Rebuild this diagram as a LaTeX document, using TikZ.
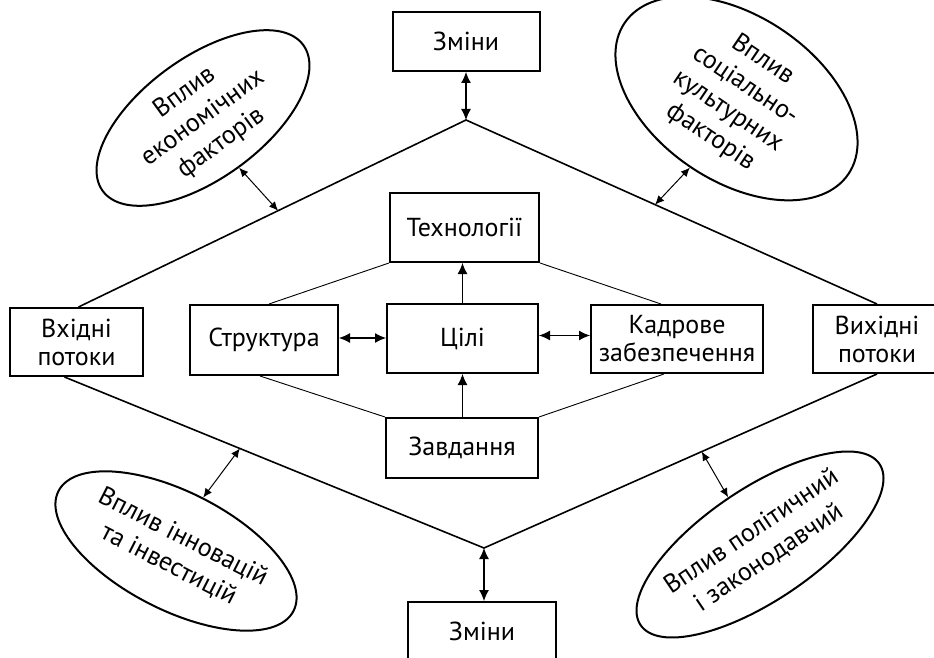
\documentclass[tikz,border=0pt]{standalone}
\usepackage{fontspec}
\setmainfont{PT Sans}
\usetikzlibrary{shapes.geometric,arrows.meta,calc}
\begin{document}
\begin{tikzpicture}[x=1pt,y=-1pt,
  box/.style={draw,line width=2pt,font=\fontsize{26}{28}\selectfont,align=center,inner sep=0pt},
  ell/.style={draw,ellipse,line width=2pt,font=\fontsize{26}{31}\selectfont,align=center,inner sep=0pt},
  dia/.style={line width=1.6pt},
  thinline/.style={line width=0.9pt},
  arr/.style={line width=1.1pt,-{Latex[length=11pt,width=10pt]}},
  darr/.style={line width=1.1pt,{Latex[length=11pt,width=10pt]}-{Latex[length=11pt,width=10pt]}},
  earr/.style={line width=1pt,{Latex[length=9pt,width=8pt]}-{Latex[length=9pt,width=8pt]}},
]
\useasboundingbox (0,0) rectangle (934,658);
\clip (0,0) rectangle (934,658);

% boxes
\node[box,minimum width=147pt,minimum height=59pt] (zt) at (466,41.5) {Зміни};
\node[box,minimum width=149pt,minimum height=69pt] (tech) at (464.5,227.5) {Технології};
\node[box,minimum width=148pt,minimum height=70pt] (str) at (264,340) {Структура};
\node[box,minimum width=151pt,minimum height=69pt] (cil) at (462.5,338.5) {Цілі};
\node[box,minimum width=172pt,minimum height=68pt] (kad) at (677,339) {Кадрове\\забезпечення};
\node[box,minimum width=152pt,minimum height=60pt] (zav) at (462,448) {Завдання};
\node[box,minimum width=133pt,minimum height=68pt] (vin) at (76.5,342) {Вхідні\\потоки};
\node[box,minimum width=128pt,minimum height=68pt] (vyh) at (877,339) {Вихідні\\потоки};
\node[box,minimum width=148pt,minimum height=64pt] (zb) at (482,634) {\raisebox{6pt}{Зміни}};

% ellipses
\node[ell,minimum width=248pt,minimum height=114pt,rotate=36] (econ) at (203,118) {Вплив\\економічних\\факторів};
\node[ell,minimum width=270pt,minimum height=122pt,rotate=-34] (soc) at (736.5,98.5) {Вплив\\соціально-\\культурних\\факторів};
\node[ell,minimum width=246pt,minimum height=118pt,rotate=-27] (inn) at (176,551) {Вплив інновацій\\та інвестицій};
\node[ell,minimum width=250pt,minimum height=112pt,rotate=34] (pol) at (760,544.5) {Вплив політичний\\і законодавчий};

% diamond
\coordinate (tv) at (466,120);
\coordinate (bv) at (484,548);
\coordinate (inN) at ([xshift=2pt]vin.north);
\coordinate (inS) at ([xshift=-12pt]vin.south);
\draw[dia] (inN) -- (tv) -- (vyh.north);
\draw[dia] (inS) -- (bv) -- (vyh.south);

\draw[darr] (zt.south) -- (tv);
\draw[darr] (bv) -- (bv |- zb.north);

% inner structure
\draw[thinline] (tech.south west) -- ([xshift=5pt]str.north);
\draw[thinline] (tech.south east) -- ([xshift=-16pt]kad.north);
\draw[thinline] ([xshift=-4pt]str.south) -- (zav.north west);
\draw[thinline] ([xshift=-13pt]kad.south) -- (zav.north east);

\draw[arr] (cil.north) -- (cil.north |- tech.south);
\draw[arr] (zav.north -| cil.north) -- (cil.south);
\draw[darr] ([yshift=2pt]str.east) -- ([yshift=2pt]str.east -| cil.west);
\draw[darr] ([yshift=3pt]cil.east) -- ([yshift=3pt]cil.east -| kad.west);

% influence arrows
\coordinate (p1) at ($(tv)!0.485!(inN)$);
\coordinate (p2) at ($(tv)!0.46!(vyh.north)$);
\coordinate (p3) at ($(inS)!0.418!(bv)$);
\coordinate (p4) at ($(vyh.south)!0.446!(bv)$);
\draw[earr] (econ.south) -- (p1);
\draw[earr] (soc.south) -- (p2);
\draw[earr] (inn.north) -- (p3);
\draw[earr] (p4) -- (pol.north);
\end{tikzpicture}
\end{document}
